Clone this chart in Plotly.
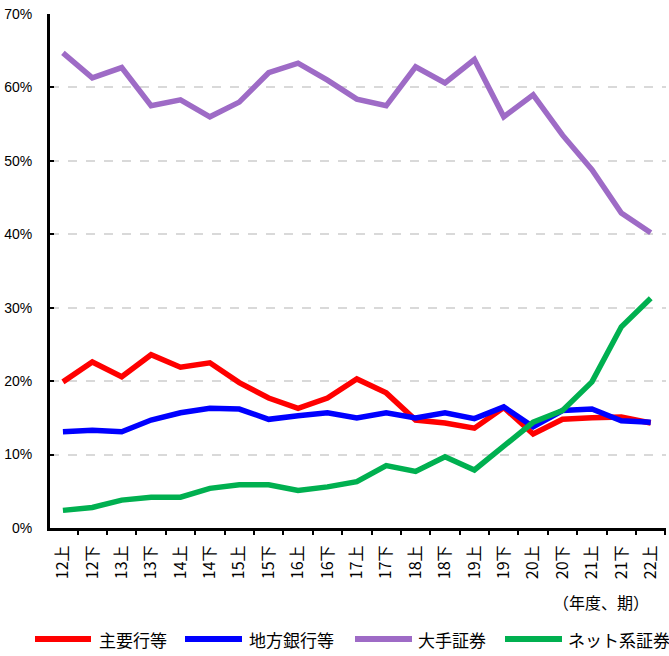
import plotly.graph_objects as go

categories = ["12上","12下","13上","13下","14上","14下","15上","15下","16上","16下",
              "17上","17下","18上","18下","19上","19下","20上","20下","21上","21下","22上"]
major_banks = [19.9,22.6,20.6,23.6,21.9,22.5,19.8,17.7,16.3,17.7,
               20.3,18.4,14.7,14.3,13.6,16.4,12.8,14.8,15.0,15.1,14.3]
regional_banks = [13.1,13.3,13.1,14.7,15.7,16.3,16.2,14.8,15.3,15.7,
                  15.0,15.7,15.0,15.7,14.9,16.5,13.8,16.0,16.2,14.6,14.4]
major_securities = [64.7,61.3,62.7,57.5,58.3,56.0,58.0,62.0,63.3,61.0,
                    58.4,57.5,62.8,60.6,63.8,56.0,59.0,53.5,48.8,42.9,40.2]
online_securities = [2.4,2.8,3.8,4.2,4.2,5.4,5.9,5.9,5.1,5.6,
                     6.3,8.5,7.7,9.7,7.9,11.1,14.4,16.0,19.9,27.4,31.3]

series_names = ["主要行等", "地方銀行等", "大手証券", "ネット系証券"]
series_values = [major_banks, regional_banks, major_securities, online_securities]
series_colors = ["#FF0000", "#0000FF", "#9E6BC6", "#00B050"]

W, H = 669, 656
PL, PR, PT, PB = 50, 666, 14, 528  # plot area in window pixels
L, R, T, B = PL, W - PR, PT, H - PB
pw, ph = W - L - R, H - T - B

def px_x(p):
    return (p - PL) / pw

def px_y(p):
    return (PB - p) / ph

jp = "Noto Sans CJK JP"

fig = go.Figure()
for name, vals, color in zip(series_names, series_values, series_colors):
    fig.add_trace(go.Scatter(x=categories, y=[v / 100 for v in vals], mode="lines",
                             name=name, line=dict(color=color, width=5.5),
                             showlegend=False, hoverinfo="skip"))

# custom legend (long line symbols like the reference)
legend_layout = [(35, 91, 97), (185, 242, 247), (355, 412, 416), (505, 562, 566)]
legend_y = 639
shapes = []
annotations = []
for (x0, x1, tx), name, color in zip(legend_layout, series_names, series_colors):
    shapes.append(dict(type="line", xref="paper", yref="paper",
                       x0=px_x(x0), x1=px_x(x1), y0=px_y(legend_y), y1=px_y(legend_y),
                       line=dict(color=color, width=6)))
    annotations.append(dict(text=name, xref="paper", yref="paper",
                            x=px_x(tx), y=px_y(legend_y), xanchor="left", yanchor="middle",
                            showarrow=False, font=dict(family=jp, size=17, color="black")))

annotations.append(dict(text="（年度、期）", xref="paper", yref="paper",
                        x=px_x(601), y=px_y(602), xanchor="center", yanchor="middle",
                        showarrow=False, font=dict(family=jp, size=16, color="black")))

fig.update_layout(
    width=W, height=H,
    margin=dict(l=L, r=R, t=T, b=B),
    plot_bgcolor="white", paper_bgcolor="white",
    font=dict(family="Liberation Sans, Arial, " + jp, color="black", size=14),
    showlegend=False,
    yaxis=dict(range=[0, 0.7], dtick=0.1, tickformat=".0%", showgrid=True,
               gridcolor="#D9D9D9", griddash="dash", gridwidth=1.5,
               showline=True, linecolor="black", linewidth=3,
               ticks="inside", ticklen=4, tickwidth=2, tickcolor="black",
               zeroline=False, tickfont=dict(size=14), automargin=False,
               ticklabelstandoff=12),
    xaxis=dict(showgrid=False, showline=True, linecolor="black", linewidth=3,
               ticks="outside", ticklen=4, tickwidth=2, tickcolor="black",
               tickson="boundaries", tickangle=-90, range=[-0.44, 20.52],
               tickfont=dict(family=jp, size=16), automargin=False,
               ticklabelstandoff=8),
    shapes=shapes,
    annotations=annotations,
)
fig.write_html("out.html", config={"displayModeBar": False},
               post_script="document.body.style.margin='0';document.body.style.overflow='hidden';")
